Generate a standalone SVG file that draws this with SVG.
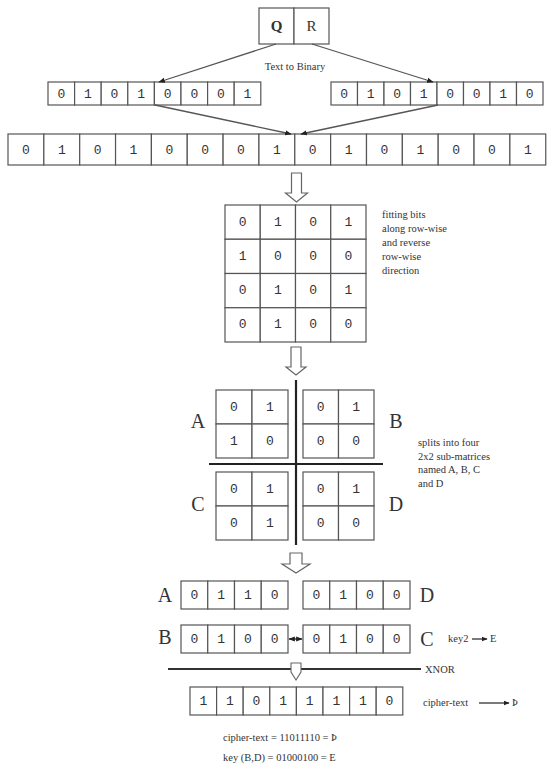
<svg xmlns="http://www.w3.org/2000/svg" width="554" height="771" viewBox="0 0 554 771">
<style>
.c{fill:#fff;stroke:#555;stroke-width:1.2}
.d{font-family:"Liberation Mono",monospace;font-size:13px;fill:#333;text-anchor:middle;dominant-baseline:central}
.L{font-family:"Liberation Serif",serif;font-size:20px;fill:#333;text-anchor:middle;dominant-baseline:central}
.s{font-family:"Liberation Serif",serif;font-size:10.5px;fill:#333}
.ln{stroke:#555;stroke-width:1.3;fill:none}
.blk{fill:#fff;stroke:#666;stroke-width:1.2}
</style>
<defs>
<marker id="dot" viewBox="0 0 10 10" refX="9" refY="5" markerWidth="5" markerHeight="5" orient="auto"><path d="M0,1 L10,5 L0,9 z" fill="#222"/></marker>
<marker id="ah" viewBox="0 0 10 10" refX="9" refY="5" markerWidth="5" markerHeight="5" orient="auto-start-reverse"><path d="M0,1 L10,5 L0,9 z" fill="#222"/></marker>
</defs>

<g id="qr">
<rect class="c" x="259" y="8" width="35" height="36"/>
<rect class="c" x="294" y="8" width="35" height="36"/>
<text x="276.5" y="26" font-family="Liberation Serif,serif" font-size="15" font-weight="bold" fill="#333" text-anchor="middle" dominant-baseline="central">Q</text>
<text x="311.5" y="26" font-family="Liberation Serif,serif" font-size="15" fill="#333" text-anchor="middle" dominant-baseline="central">R</text>
</g>
<text class="s" x="295" y="70" text-anchor="middle" font-size="10">Text to Binary</text>

<g id="bin-q">
<rect class="c" x="48" y="82" width="26.6" height="23"/><rect class="c" x="74.6" y="82" width="26.6" height="23"/><rect class="c" x="101.2" y="82" width="26.6" height="23"/><rect class="c" x="127.8" y="82" width="26.6" height="23"/><rect class="c" x="154.4" y="82" width="26.6" height="23"/><rect class="c" x="181" y="82" width="26.6" height="23"/><rect class="c" x="207.6" y="82" width="26.6" height="23"/><rect class="c" x="234.2" y="82" width="26.6" height="23"/>
<text class="d" x="61.3" y="94">0</text><text class="d" x="87.9" y="94">1</text><text class="d" x="114.5" y="94">0</text><text class="d" x="141.1" y="94">1</text><text class="d" x="167.7" y="94">0</text><text class="d" x="194.3" y="94">0</text><text class="d" x="220.9" y="94">0</text><text class="d" x="247.5" y="94">1</text>
</g>
<g id="bin-r">
<rect class="c" x="331" y="82" width="26.5" height="23"/><rect class="c" x="357.5" y="82" width="26.5" height="23"/><rect class="c" x="384" y="82" width="26.5" height="23"/><rect class="c" x="410.5" y="82" width="26.5" height="23"/><rect class="c" x="437" y="82" width="26.5" height="23"/><rect class="c" x="463.5" y="82" width="26.5" height="23"/><rect class="c" x="490" y="82" width="26.5" height="23"/><rect class="c" x="516.5" y="82" width="26.5" height="23"/>
<text class="d" x="344.2" y="94">0</text><text class="d" x="370.7" y="94">1</text><text class="d" x="397.2" y="94">0</text><text class="d" x="423.7" y="94">1</text><text class="d" x="450.2" y="94">0</text><text class="d" x="476.7" y="94">0</text><text class="d" x="503.2" y="94">1</text><text class="d" x="529.7" y="94">0</text>
</g>

<g id="bin-all">
<rect class="c" x="8" y="134" width="35.85" height="31"/><rect class="c" x="43.85" y="134" width="35.85" height="31"/><rect class="c" x="79.7" y="134" width="35.85" height="31"/><rect class="c" x="115.55" y="134" width="35.85" height="31"/><rect class="c" x="151.4" y="134" width="35.85" height="31"/><rect class="c" x="187.25" y="134" width="35.85" height="31"/><rect class="c" x="223.1" y="134" width="35.85" height="31"/><rect class="c" x="258.95" y="134" width="35.85" height="31"/><rect class="c" x="294.8" y="134" width="35.85" height="31"/><rect class="c" x="330.65" y="134" width="35.85" height="31"/><rect class="c" x="366.5" y="134" width="35.85" height="31"/><rect class="c" x="402.35" y="134" width="35.85" height="31"/><rect class="c" x="438.2" y="134" width="35.85" height="31"/><rect class="c" x="474.05" y="134" width="35.85" height="31"/><rect class="c" x="509.9" y="134" width="35.85" height="31"/>
<text class="d" x="25.9" y="150">0</text><text class="d" x="61.8" y="150">1</text><text class="d" x="97.6" y="150">0</text><text class="d" x="133.5" y="150">1</text><text class="d" x="169.3" y="150">0</text><text class="d" x="205.2" y="150">0</text><text class="d" x="241" y="150">0</text><text class="d" x="276.9" y="150">1</text><text class="d" x="312.7" y="150">0</text><text class="d" x="348.6" y="150">1</text><text class="d" x="384.4" y="150">0</text><text class="d" x="420.3" y="150">1</text><text class="d" x="456.1" y="150">0</text><text class="d" x="492" y="150">0</text><text class="d" x="527.8" y="150">1</text>
</g>

<g id="matrix">
<rect class="c" x="225" y="205" width="35.25" height="34.25"/><rect class="c" x="260.25" y="205" width="35.25" height="34.25"/><rect class="c" x="295.5" y="205" width="35.25" height="34.25"/><rect class="c" x="330.75" y="205" width="35.25" height="34.25"/>
<rect class="c" x="225" y="239.25" width="35.25" height="34.25"/><rect class="c" x="260.25" y="239.25" width="35.25" height="34.25"/><rect class="c" x="295.5" y="239.25" width="35.25" height="34.25"/><rect class="c" x="330.75" y="239.25" width="35.25" height="34.25"/>
<rect class="c" x="225" y="273.5" width="35.25" height="34.25"/><rect class="c" x="260.25" y="273.5" width="35.25" height="34.25"/><rect class="c" x="295.5" y="273.5" width="35.25" height="34.25"/><rect class="c" x="330.75" y="273.5" width="35.25" height="34.25"/>
<rect class="c" x="225" y="307.75" width="35.25" height="34.25"/><rect class="c" x="260.25" y="307.75" width="35.25" height="34.25"/><rect class="c" x="295.5" y="307.75" width="35.25" height="34.25"/><rect class="c" x="330.75" y="307.75" width="35.25" height="34.25"/>
<text class="d" x="242.6" y="222">0</text><text class="d" x="277.9" y="222">1</text><text class="d" x="313.1" y="222">0</text><text class="d" x="348.4" y="222">1</text>
<text class="d" x="242.6" y="256.4">1</text><text class="d" x="277.9" y="256.4">0</text><text class="d" x="313.1" y="256.4">0</text><text class="d" x="348.4" y="256.4">0</text>
<text class="d" x="242.6" y="290.6">0</text><text class="d" x="277.9" y="290.6">1</text><text class="d" x="313.1" y="290.6">0</text><text class="d" x="348.4" y="290.6">1</text>
<text class="d" x="242.6" y="324.9">0</text><text class="d" x="277.9" y="324.9">1</text><text class="d" x="313.1" y="324.9">0</text><text class="d" x="348.4" y="324.9">0</text>
</g>
<text class="s" x="382"><tspan x="382" y="218">fitting bits</tspan><tspan x="382" y="232">along row-wise</tspan><tspan x="382" y="246">and reverse</tspan><tspan x="382" y="260">row-wise</tspan><tspan x="382" y="274">direction</tspan></text>

<g id="sub-A">
<rect class="c" x="216" y="390" width="36" height="34"/><rect class="c" x="252" y="390" width="36" height="34"/><rect class="c" x="216" y="424" width="36" height="34"/><rect class="c" x="252" y="424" width="36" height="34"/>
<text class="d" x="234" y="407">0</text><text class="d" x="270" y="407">1</text><text class="d" x="234" y="441">1</text><text class="d" x="270" y="441">0</text>
<text class="L" x="198" y="421">A</text>
</g>
<g id="sub-B">
<rect class="c" x="303" y="390" width="35.5" height="34"/><rect class="c" x="338.5" y="390" width="35.5" height="34"/><rect class="c" x="303" y="424" width="35.5" height="34"/><rect class="c" x="338.5" y="424" width="35.5" height="34"/>
<text class="d" x="320.7" y="407">0</text><text class="d" x="356.2" y="407">1</text><text class="d" x="320.7" y="441">0</text><text class="d" x="356.2" y="441">0</text>
<text class="L" x="396" y="421">B</text>
</g>
<g id="sub-C">
<rect class="c" x="216" y="472" width="36" height="34"/><rect class="c" x="252" y="472" width="36" height="34"/><rect class="c" x="216" y="506" width="36" height="34"/><rect class="c" x="252" y="506" width="36" height="34"/>
<text class="d" x="234" y="489">0</text><text class="d" x="270" y="489">1</text><text class="d" x="234" y="523">0</text><text class="d" x="270" y="523">1</text>
<text class="L" x="198" y="504">C</text>
</g>
<g id="sub-D">
<rect class="c" x="303" y="472" width="35.5" height="34"/><rect class="c" x="338.5" y="472" width="35.5" height="34"/><rect class="c" x="303" y="506" width="35.5" height="34"/><rect class="c" x="338.5" y="506" width="35.5" height="34"/>
<text class="d" x="320.7" y="489">0</text><text class="d" x="356.2" y="489">1</text><text class="d" x="320.7" y="523">0</text><text class="d" x="356.2" y="523">0</text>
<text class="L" x="396" y="504">D</text>
</g>
<text class="s" x="418"><tspan x="418" y="446">splits into four</tspan><tspan x="418" y="460">2x2  sub-matrices</tspan><tspan x="418" y="473">named A, B, C</tspan><tspan x="418" y="487">and D</tspan></text>

<g id="row-A">
<rect class="c" x="181" y="581" width="26.75" height="28"/><rect class="c" x="207.75" y="581" width="26.75" height="28"/><rect class="c" x="234.5" y="581" width="26.75" height="28"/><rect class="c" x="261.25" y="581" width="26.75" height="28"/>
<text class="d" x="194.4" y="595">0</text><text class="d" x="221.1" y="595">1</text><text class="d" x="247.9" y="595">1</text><text class="d" x="274.6" y="595">0</text>
<text class="L" x="165" y="595" font-size="17">A</text>
</g>
<g id="row-D">
<rect class="c" x="303" y="581" width="26.75" height="28"/><rect class="c" x="329.75" y="581" width="26.75" height="28"/><rect class="c" x="356.5" y="581" width="26.75" height="28"/><rect class="c" x="383.25" y="581" width="26.75" height="28"/>
<text class="d" x="316.4" y="595">0</text><text class="d" x="343.1" y="595">1</text><text class="d" x="369.9" y="595">0</text><text class="d" x="396.6" y="595">0</text>
<text class="L" x="427" y="595" font-size="17">D</text>
</g>
<g id="row-B">
<rect class="c" x="181" y="625" width="26.75" height="28"/><rect class="c" x="207.75" y="625" width="26.75" height="28"/><rect class="c" x="234.5" y="625" width="26.75" height="28"/><rect class="c" x="261.25" y="625" width="26.75" height="28"/>
<text class="d" x="194.4" y="639">0</text><text class="d" x="221.1" y="639">1</text><text class="d" x="247.9" y="639">0</text><text class="d" x="274.6" y="639">0</text>
<text class="L" x="165" y="637" font-size="17">B</text>
</g>
<g id="row-C">
<rect class="c" x="303" y="625" width="26.75" height="28"/><rect class="c" x="329.75" y="625" width="26.75" height="28"/><rect class="c" x="356.5" y="625" width="26.75" height="28"/><rect class="c" x="383.25" y="625" width="26.75" height="28"/>
<text class="d" x="316.4" y="639">0</text><text class="d" x="343.1" y="639">1</text><text class="d" x="369.9" y="639">0</text><text class="d" x="396.6" y="639">0</text>
<text class="L" x="427" y="639" font-size="17">C</text>
</g>
<text class="s" x="448" y="642" font-size="9">key2</text>
<text class="s" x="490" y="642" font-size="10">E</text>

<g id="cipher">
<rect class="c" x="190" y="687" width="26.6" height="28"/><rect class="c" x="216.6" y="687" width="26.6" height="28"/><rect class="c" x="243.2" y="687" width="26.6" height="28"/><rect class="c" x="269.8" y="687" width="26.6" height="28"/><rect class="c" x="296.4" y="687" width="26.6" height="28"/><rect class="c" x="323" y="687" width="26.6" height="28"/><rect class="c" x="349.6" y="687" width="26.6" height="28"/><rect class="c" x="376.2" y="687" width="26.6" height="28"/>
<text class="d" x="203.3" y="701">1</text><text class="d" x="229.9" y="701">1</text><text class="d" x="256.5" y="701">0</text><text class="d" x="283.1" y="701">1</text><text class="d" x="309.7" y="701">1</text><text class="d" x="336.3" y="701">1</text><text class="d" x="362.9" y="701">1</text><text class="d" x="389.5" y="701">0</text>
</g>
<text class="s" x="423" y="706" font-size="9.5">cipher-text</text>
<text class="s" x="512" y="706" font-size="10">Þ</text>
<text class="s" x="425" y="673" font-size="10">XNOR</text>
<text class="s" x="223" y="741" font-size="9.5">cipher-text = 11011110  = Þ</text>
<text class="s" x="223" y="761" font-size="9.5">key (B,D) = 01000100  = E</text>

<g id="connectors">
<line class="ln" x1="276" y1="44" x2="159" y2="82" marker-end="url(#dot)"/>
<line class="ln" x1="312" y1="44" x2="433" y2="82" marker-end="url(#dot)"/>
<line class="ln" x1="155" y1="105" x2="291" y2="134" marker-end="url(#dot)"/>
<line class="ln" x1="438" y1="105" x2="301" y2="134" marker-end="url(#dot)"/>
<path class="blk" d="M291.5,173 H301.5 V193 H307.5 L296.5,202 L285.5,193 H291.5 Z"/>
<path class="blk" d="M291,347 H301 V367 H306 L296,375 L286,367 H291 Z"/>
<line x1="296" y1="380" x2="296" y2="545" stroke="#222" stroke-width="2.2"/>
<line x1="209" y1="464" x2="383" y2="464" stroke="#222" stroke-width="2.2"/>
<path class="blk" d="M290,553 H302 V564 H310 L296,573 L282,564 H290 Z"/>
<line x1="289" y1="639" x2="302" y2="639" stroke="#222" stroke-width="1.3" marker-start="url(#ah)" marker-end="url(#ah)"/>
<line x1="472" y1="639" x2="487" y2="639" stroke="#222" stroke-width="1.2" marker-end="url(#ah)"/>
<line x1="168" y1="669" x2="421" y2="669" stroke="#333" stroke-width="2"/>
<path d="M291,663 H301 V672 L296,680 L291,672 Z" fill="#fff" stroke="#666" stroke-width="1.1"/>
<line x1="479" y1="703" x2="509" y2="703" stroke="#222" stroke-width="1.2" marker-end="url(#ah)"/>
</g>
</svg>
